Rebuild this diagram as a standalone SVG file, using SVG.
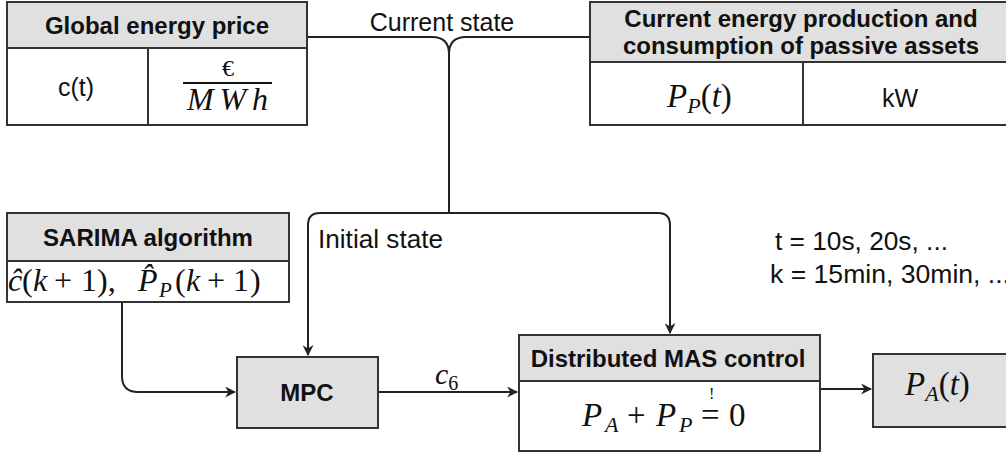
<svg xmlns="http://www.w3.org/2000/svg" width="1006" height="453" viewBox="0 0 1006 453">
  <style>
    .box { fill: #ffffff; stroke: #333333; stroke-width: 2; }
    .head { fill: #e0e0e0; stroke: #333333; stroke-width: 2; }
    .sep { stroke: #333333; stroke-width: 2; fill: none; }
    .title { font-family: "Liberation Sans", Arial, sans-serif; font-weight: bold; font-size: 24px; fill: #111111; text-anchor: middle; }
    .plain { font-family: "Liberation Sans", Arial, sans-serif; font-size: 25px; fill: #111111; }
    .math { font-family: "Liberation Serif", "Times New Roman", serif; font-style: italic; fill: #111111; }
    .rm { font-style: normal; }
    .wire { fill: none; stroke: #222222; stroke-width: 2; }
  </style>
  <defs>
    <marker id="arrow" viewBox="0 0 10 10" refX="9" refY="5" markerWidth="11" markerHeight="11" markerUnits="userSpaceOnUse" orient="auto">
      <path d="M0,0 L10,5 L0,10 L3,5 Z" fill="#222222"/>
    </marker>
  </defs>
  <rect width="1006" height="453" fill="#ffffff"/>

  <!-- connectors -->
  <g id="connectors">
    <!-- current state feeds merge into one trunk -->
    <path class="wire" d="M307,37 L432,37 Q449,37 449,54"/>
    <path class="wire" d="M590,37 L466,37 Q449,37 449,54"/>
    <path class="wire" d="M449,54 L449,213"/>
    <!-- initial state branches -->
    <path class="wire" d="M449,213 L320,213 Q308,213 308,225 L308,355" marker-end="url(#arrow)"/>
    <path class="wire" d="M449,213 L658,213 Q670,213 670,225 L670,333" marker-end="url(#arrow)"/>
    <!-- forecast into MPC -->
    <path class="wire" d="M122,302 L122,376 Q122,392 138,392 L235,392" marker-end="url(#arrow)"/>
    <!-- MPC to MAS control -->
    <path class="wire" d="M378,392 L517,392" marker-end="url(#arrow)"/>
    <!-- MAS control to output -->
    <path class="wire" d="M820,389 L871,389" marker-end="url(#arrow)"/>
    <text class="plain" x="442" y="31" text-anchor="middle" font-size="26">Current state</text>
    <text class="plain" x="318" y="248" textLength="125" lengthAdjust="spacingAndGlyphs">Initial state</text>
    <text class="math" x="435" y="384" font-size="30">c<tspan class="rm" font-size="20" dy="6">6</tspan></text>
  </g>

  <!-- Global energy price -->
  <g id="global-price">
    <rect class="box" x="7" y="2" width="300" height="123"/>
    <rect class="head" x="7" y="2" width="300" height="46"/>
    <line class="sep" x1="148" y1="48" x2="148" y2="125"/>
    <text class="title" x="157" y="34">Global energy price</text>
    <text class="plain" x="76" y="96" text-anchor="middle">c(t)</text>
    <text class="math rm" x="228" y="76" text-anchor="middle" font-size="24">€</text>
    <line x1="183" y1="83" x2="272" y2="83" stroke="#111111" stroke-width="1.8"/>
    <text class="math" x="187" y="110" font-size="32" textLength="81" lengthAdjust="spacing">MWh</text>
  </g>

  <!-- Passive assets -->
  <g id="passive-assets">
    <rect class="box" x="590" y="2" width="422" height="123"/>
    <rect class="head" x="590" y="2" width="422" height="60"/>
    <line class="sep" x1="803" y1="62" x2="803" y2="125"/>
    <text class="title" x="801" y="27">Current energy production and</text>
    <text class="title" x="801" y="54">consumption of passive assets</text>
    <text class="math" x="667" y="107" font-size="33">P<tspan font-size="22" dy="6">P</tspan><tspan class="rm" dy="-6">(</tspan>t<tspan class="rm">)</tspan></text>
    <text class="plain" x="900" y="107" text-anchor="middle">kW</text>
  </g>

  <!-- SARIMA forecaster -->
  <g id="sarima">
    <rect class="box" x="7" y="213" width="282" height="89"/>
    <rect class="head" x="7" y="213" width="282" height="48"/>
    <text class="title" x="148" y="246">SARIMA algorithm</text>
    <!-- forecast expression, pieces placed by hand -->
    <text class="math" font-size="32"><tspan x="8" y="291">ĉ</tspan><tspan class="rm" x="22" y="291">(</tspan><tspan x="33" y="291">k</tspan><tspan class="rm" x="54" y="291">+</tspan><tspan class="rm" x="81" y="291">1</tspan><tspan class="rm" x="97" y="291">),</tspan><tspan x="138" y="291">P̂</tspan><tspan x="159" y="297" font-size="21">P</tspan><tspan class="rm" x="175" y="291">(</tspan><tspan x="186" y="291">k</tspan><tspan class="rm" x="207" y="291">+</tspan><tspan class="rm" x="233" y="291">1</tspan><tspan class="rm" x="250" y="291">)</tspan></text>
  </g>

  <!-- MPC -->
  <g id="mpc">
    <rect class="head" x="237" y="357" width="141" height="71"/>
    <text class="title" x="307" y="401">MPC</text>
  </g>

  <!-- Distributed MAS control -->
  <g id="mas-control">
    <rect class="box" x="519" y="335" width="301" height="116"/>
    <rect class="head" x="519" y="335" width="301" height="46"/>
    <text class="title" x="668" y="367">Distributed MAS control</text>
    <!-- power balance constraint, pieces placed by hand -->
    <text class="math" font-size="33"><tspan x="582" y="426">P</tspan><tspan x="605" y="432" font-size="22">A</tspan><tspan class="rm" x="627" y="426">+</tspan><tspan x="656" y="426">P</tspan><tspan x="679" y="432" font-size="22">P</tspan><tspan class="rm" x="701" y="426">=</tspan><tspan class="rm" x="729" y="426">0</tspan><tspan class="rm" x="709" y="399" font-size="16">!</tspan></text>
  </g>

  <!-- Output -->
  <g id="output">
    <rect class="head" x="873" y="354" width="140" height="73"/>
    <text class="math" x="905" y="395" font-size="33">P<tspan font-size="22" dy="6">A</tspan><tspan class="rm" dy="-6">(</tspan>t<tspan class="rm">)</tspan></text>
  </g>

  <!-- sampling note -->
  <g id="sampling-note">
    <text class="plain" x="775" y="250" textLength="173" lengthAdjust="spacingAndGlyphs">t = 10s, 20s, ...</text>
    <text class="plain" x="770" y="283" textLength="240" lengthAdjust="spacingAndGlyphs">k = 15min, 30min, ...</text>
  </g>
</svg>
